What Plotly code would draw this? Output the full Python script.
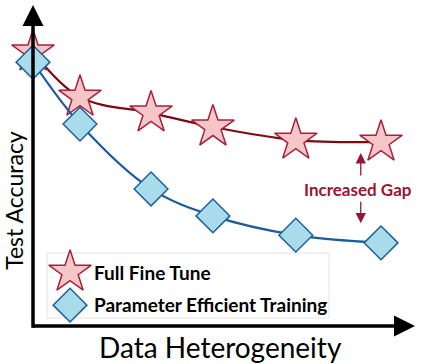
import plotly.graph_objects as go

# posiciones (escala libre 0-10)
heterogeneidad = [0.0, 1.23, 3.09, 4.71, 6.88, 9.11]
acc_full_fine_tune = [8.54, 7.13, 6.64, 6.20, 5.79, 5.73]
acc_param_efficient = [8.22, 6.29, 4.27, 3.43, 2.83, 2.59]

nombres = ["Full Fine Tune", "Parameter Efficient Training"]
titulo_x = "Data Heterogeneity"
titulo_y = "Test Accuracy"
texto_gap = "Increased Gap"

ROJO_LINEA = "#7d0a12"
ROJO_BORDE = "#a8203a"
ROJO_RELLENO = "#f5c6c8"
AZUL_LINEA = "#1a5c9c"
AZUL_BORDE = "#1f5f9a"
AZUL_RELLENO = "#a8dcea"
GAP = "#9b1532"

FUENTE = "Lato"

fig = go.Figure()

# leyenda hecha a mano (los simbolos de la leyenda de plotly son demasiado pequenos)
leg_x0, leg_x1, leg_y0, leg_y1 = 0.37, 7.75, 0.25, 2.27
fig.add_shape(type="rect", xref="x", yref="y", x0=leg_x0, x1=leg_x1, y0=leg_y0, y1=leg_y1,
              line=dict(color="#e4e4e4", width=1), fillcolor="white", layer="below")

fig.add_trace(go.Scatter(
    x=heterogeneidad, y=acc_full_fine_tune, mode="lines+markers",
    line=dict(color=ROJO_LINEA, width=2.2, shape="spline", smoothing=1),
    marker=dict(symbol="star", size=32, color=ROJO_RELLENO,
                line=dict(color=ROJO_BORDE, width=1.5)),
    cliponaxis=False, showlegend=False))

fig.add_trace(go.Scatter(
    x=heterogeneidad, y=acc_param_efficient, mode="lines+markers",
    line=dict(color=AZUL_LINEA, width=2.2, shape="spline", smoothing=1),
    marker=dict(symbol="diamond", size=26, color=AZUL_RELLENO,
                line=dict(color=AZUL_BORDE, width=1.5)),
    cliponaxis=False, showlegend=False))

fig.add_trace(go.Scatter(
    x=[0.97], y=[1.68], mode="markers",
    marker=dict(symbol="star", size=32, color=ROJO_RELLENO, line=dict(color=ROJO_BORDE, width=1.5)),
    cliponaxis=False, showlegend=False))
fig.add_trace(go.Scatter(
    x=[0.97], y=[0.65], mode="markers",
    marker=dict(symbol="diamond", size=26, color=AZUL_RELLENO, line=dict(color=AZUL_BORDE, width=1.5)),
    cliponaxis=False, showlegend=False))
for nombre, yy in zip(nombres, [1.68, 0.68]):
    fig.add_annotation(x=1.55, y=yy, xref="x", yref="y", text="<b>" + nombre + "</b>",
                       showarrow=False, xanchor="left", yanchor="middle",
                       font=dict(family=FUENTE, size=19, color="black"))

# ejes con flecha
fig.add_annotation(x=0, y=10, ax=0, ay=-0.1, xref="x", yref="y", axref="x", ayref="y",
                   text="", showarrow=True, arrowhead=2, arrowsize=1.2, arrowwidth=3.5,
                   arrowcolor="black")
fig.add_annotation(x=10, y=0, ax=-0.05, ay=0, xref="x", yref="y", axref="x", ayref="y",
                   text="", showarrow=True, arrowhead=2, arrowsize=1.2, arrowwidth=3.5,
                   arrowcolor="black")

# Increased Gap
fig.add_annotation(x=8.51, y=4.24, xref="x", yref="y", text="<b>" + texto_gap + "</b>",
                   showarrow=False, font=dict(family=FUENTE, size=17, color=GAP))
fig.add_annotation(x=8.58, y=5.39, ax=8.58, ay=4.64, xref="x", yref="y", axref="x", ayref="y",
                   text="", showarrow=True, arrowhead=2, arrowsize=1.6, arrowwidth=1.3,
                   arrowcolor=GAP)
fig.add_annotation(x=8.58, y=3.20, ax=8.58, ay=3.92, xref="x", yref="y", axref="x", ayref="y",
                   text="", showarrow=True, arrowhead=2, arrowsize=1.6, arrowwidth=1.3,
                   arrowcolor=GAP)

# titulos de los ejes
fig.add_annotation(x=-0.0497, y=0.39, xref="paper", yref="paper", text=titulo_y, textangle=-90,
                   xanchor="center", yanchor="middle",
                   showarrow=False, font=dict(family=FUENTE, size=23, color="black"))
fig.add_annotation(x=0.49, y=-0.066, xref="paper", yref="paper", text=titulo_x,
                   xanchor="center", yanchor="middle",
                   showarrow=False, font=dict(family=FUENTE, size=28, color="black"))

fig.update_layout(
    width=426, height=364,
    margin=dict(l=33, r=11, t=5, b=38),
    paper_bgcolor="white", plot_bgcolor="white",
    xaxis=dict(range=[0, 10], visible=False),
    yaxis=dict(range=[0, 10], visible=False),
)

fig.write_html("out.html", config={"displayModeBar": False},
               post_script="document.body.style.margin='0';")
